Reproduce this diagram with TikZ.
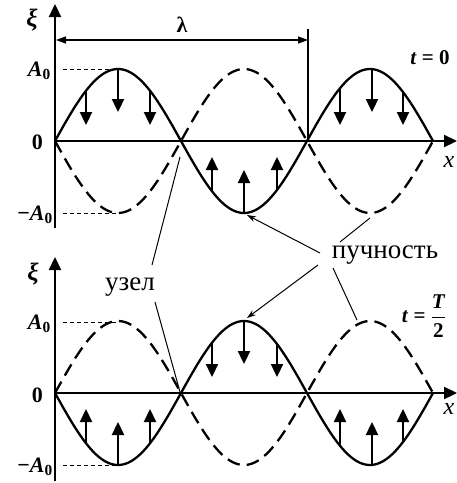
\documentclass[tikz,border=0pt]{standalone}
\usepackage{fontspec}
\setmainfont{Liberation Serif}
\usetikzlibrary{arrows.meta}
\begin{document}
\begin{tikzpicture}[x=1pt,y=-1pt,
  curve/.style={line width=2.3pt},
  dcurve/.style={line width=2.3pt, dash pattern=on 13pt off 7pt},
  axis/.style={line width=2.3pt, -{Triangle[length=13pt,width=12pt]}},
  varrow/.style={line width=2.3pt, -{Triangle[length=13pt,width=12pt]}},
  refline/.style={line width=0.9pt, dash pattern=on 4pt off 3pt},
  ptr/.style={line width=1pt},
  ptra/.style={line width=1pt, -{Stealth[length=9pt,width=6pt]}},
  dim/.style={line width=1.5pt, {Triangle[length=10pt,width=7pt]}-{Triangle[length=10pt,width=7pt]}},
  lbl/.style={inner sep=0pt, font=\fontsize{22}{22}\selectfont\bfseries},
  word/.style={inner sep=0pt, font=\fontsize{27}{27}\selectfont}
]
\useasboundingbox (0,0) rectangle (457,483);

% ---------- top plot (t = 0) ----------
\coordinate (oT) at (55,141);
\coordinate (yTtop) at (55,4);
\coordinate (yTbot) at (55,228);
\coordinate (xTend) at (457,141);
\draw[line width=2.3pt] (yTbot) -- (oT);
\draw[axis] (oT) -- (yTtop);
\draw[axis] (oT) -- (xTend);

\draw[curve] plot[domain=55:433,samples=150,smooth] (\x,{141-72*sin((\x-55)/126*180)});
\draw[dcurve] plot[domain=55:433,samples=150,smooth] (\x,{141+72*sin((\x-55)/126*180)});

\foreach \xc/\s/\d in {86/1/16,118/1/29,150/1/16,212/-1/16,244/-1/29,277/-1/16,340/1/16,372/1/29,403/1/16}
  \draw[varrow] (\xc,{141-72*sin((\xc-55)/126*180)}) -- (\xc,{141-\s*\d});

\coordinate (aTp) at (63,69);  \coordinate (pkT) at (118,69);
\coordinate (aTm) at (63,213); \coordinate (trT) at (118,213);
\draw[refline] (aTp) -- (pkT);
\draw[refline] (aTm) -- (trT);

\coordinate (lamL) at (56,40);
\coordinate (lamR) at (308,40);
\coordinate (lamTop) at (308,29);
\coordinate (nodeT2) at (308,141);
\draw[dim] (lamL) -- (lamR);
\draw[line width=1.5pt] (lamTop) -- (nodeT2);
\node[lbl] (lam) at (182,25) {λ};

\node[lbl,font=\fontsize{25}{25}\selectfont\bfseries\itshape] (xiT) at (32,20) {ξ};
\node[lbl,anchor=east] (A0T) at (51,71) {\textit{A}\textsubscript{0}};
\node[lbl,anchor=east] (zeroT) at (43,142) {0};
\node[lbl,anchor=east] (mA0T) at (53,215) {−\textit{A}\textsubscript{0}};
\node[lbl,font=\fontsize{24}{24}\selectfont\itshape] (xT) at (449,162) {x};
\node[lbl,font=\fontsize{21}{21}\selectfont\bfseries] (tT) at (430,58) {\textit{t} = 0};

% ---------- bottom plot (t = T/2) ----------
\coordinate (oB) at (55,393);
\coordinate (yBtop) at (55,257);
\coordinate (yBbot) at (55,481);
\coordinate (xBend) at (457,393);
\draw[line width=2.3pt] (yBbot) -- (oB);
\draw[axis] (oB) -- (yBtop);
\draw[axis] (oB) -- (xBend);

\draw[curve] plot[domain=55:433,samples=150,smooth] (\x,{393+72*sin((\x-55)/126*180)});
\draw[dcurve] plot[domain=55:433,samples=150,smooth] (\x,{393-72*sin((\x-55)/126*180)});

\foreach \xc/\s/\d in {86/1/16,118/1/29,150/1/16,212/-1/16,244/-1/29,277/-1/16,340/1/16,372/1/29,403/1/16}
  \draw[varrow] (\xc,{393+72*sin((\xc-55)/126*180)}) -- (\xc,{393+\s*\d});

\coordinate (aBp) at (63,322);  \coordinate (pkB) at (118,322);
\coordinate (aBm) at (63,465);  \coordinate (trB) at (118,465);
\draw[refline] (aBp) -- (pkB);
\draw[refline] (aBm) -- (trB);

\node[lbl,font=\fontsize{25}{25}\selectfont\bfseries\itshape] (xiB) at (33,274) {ξ};
\node[lbl,anchor=east] (A0B) at (51,324) {\textit{A}\textsubscript{0}};
\node[lbl,anchor=east] (zeroB) at (43,395) {0};
\node[lbl,anchor=east] (mA0B) at (53,467) {−\textit{A}\textsubscript{0}};
\node[lbl,font=\fontsize{24}{24}\selectfont\itshape] (xB) at (449,409) {x};
\node[lbl,font=\fontsize{21}{21}\selectfont\bfseries] (tB) at (424,316)
  {\textit{t} = $\displaystyle\frac{\mbox{\fontsize{21}{21}\selectfont\bfseries\itshape T}}{\mbox{\fontsize{21}{21}\selectfont\bfseries 2}}$};

% ---------- labels and pointers ----------
\node[word] (uzel) at (130,287) {узел};
\node[word] (puch) at (385,255) {пучность};

\coordinate (uzA) at (152,265);  \coordinate (nodeTop) at (180,157);
\coordinate (uzB) at (155,302);  \coordinate (nodeBot) at (180,392);
\draw[ptr] (uzA) -- (nodeTop);
\draw[ptr] (uzB) -- (nodeBot);

\coordinate (puA) at (320,253);  \coordinate (antiT) at (247,215);
\coordinate (puB) at (318,265);  \coordinate (antiB) at (247,318);
\coordinate (puC) at (340,242);  \coordinate (dashT) at (370,218);
\coordinate (puD) at (333,268);  \coordinate (dashB) at (357,320);
\draw[ptra] (puA) -- (antiT);
\draw[ptra] (puB) -- (antiB);
\draw[ptr] (puC) -- (dashT);
\draw[ptr] (puD) -- (dashB);
\end{tikzpicture}
\end{document}
